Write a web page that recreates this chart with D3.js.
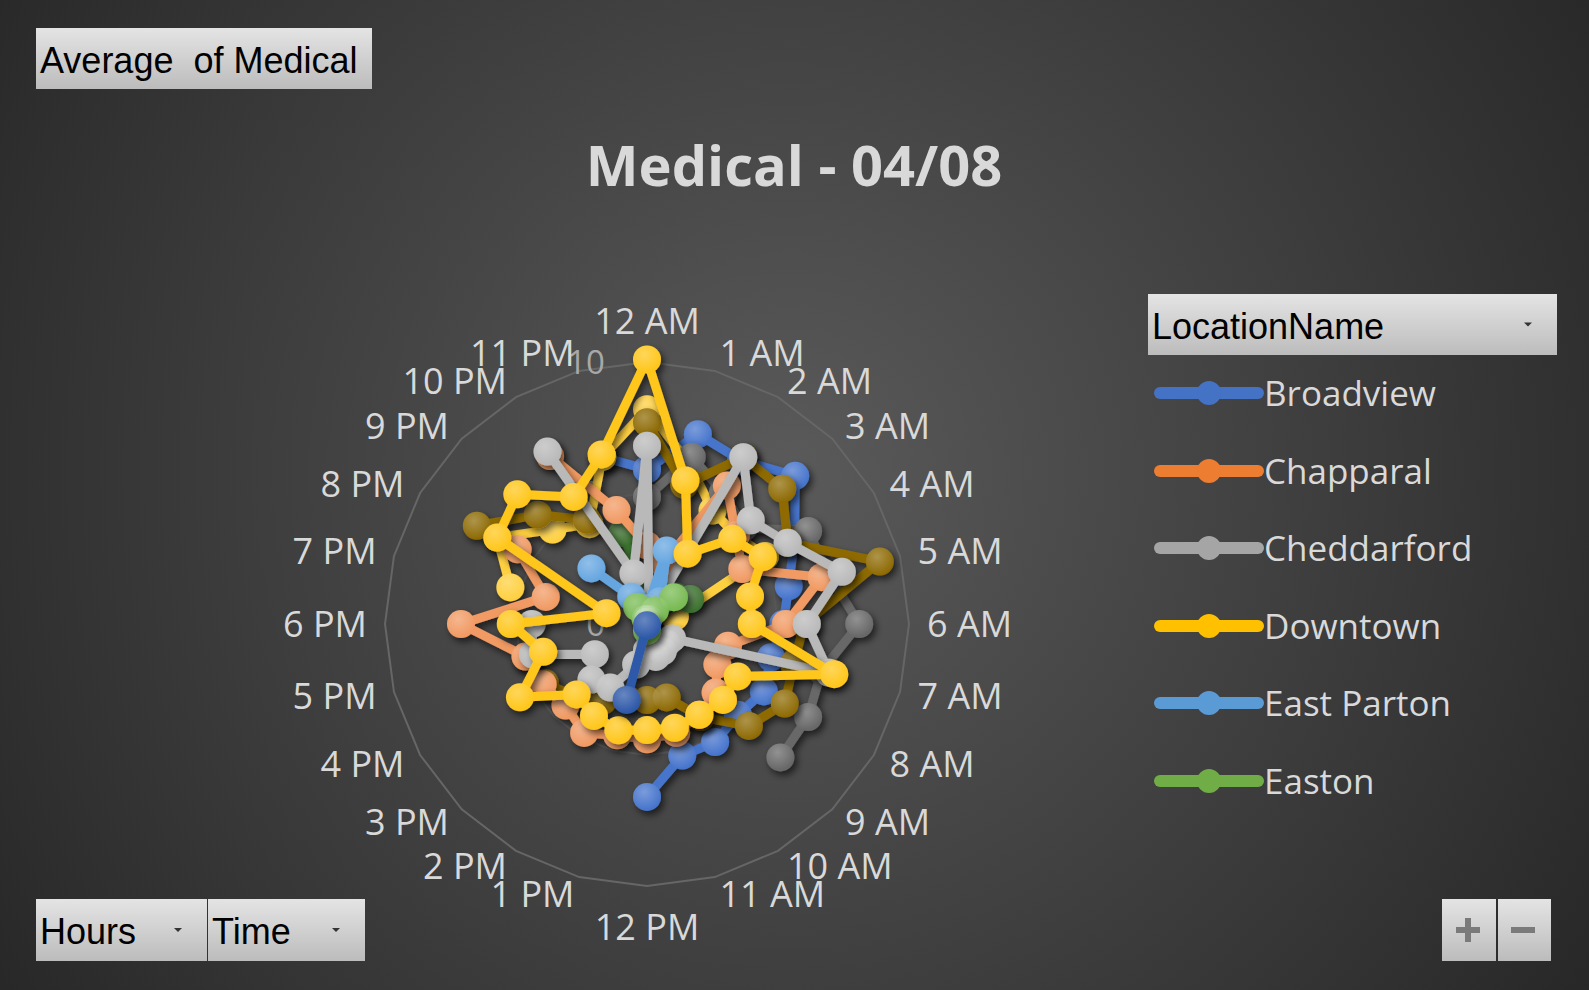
<!DOCTYPE html>
<html><head><meta charset="utf-8">
<script src="https://cdn.jsdelivr.net/npm/d3@7"></script>
<style>html,body{margin:0;padding:0;background:#333;overflow:hidden}text{white-space:pre}</style>
</head><body><svg id="c" width="1589" height="990"></svg>
<script>
const N = null;
const hours = ["12 AM","1 AM","2 AM","3 AM","4 AM","5 AM","6 AM","7 AM","8 AM","9 AM","10 AM","11 AM",
               "12 PM","1 PM","2 PM","3 PM","4 PM","5 PM","6 PM","7 PM","8 PM","9 PM","10 PM","11 PM"];
const valueTicks = [0, 5, 10];
const legendNames = ["Broadview","Chapparal","Cheddarford","Downtown","East Parton","Easton"];
const legendColors = ["#4472C4","#ED7D31","#A5A5A5","#FFC000","#5B9BD5","#70AD47"];
// values per hour, 12 AM .. 11 PM (null = no data)
const broadview   = [5.9,7.5,7.2,8.0,6.5,5.6,5.2,4.9,5.15,4.9,5.2,5.2,6.6,N,N,N,N,N,N,N,N,N,N,6.6];
const chapparal   = [3.0,2.4,6.1,4.8,4.2,6.9,5.3,3.2,3.1,3.7,4.0,4.3,4.4,4.4,4.8,4.4,4.6,4.8,7.1,4.0,5.7,N,7.4,4.5];
const cheddarford = [6.8,0.3,7.35,5.6,6.2,7.7,6.1,7.2,1.1,1.05,1.2,1.3,1.0,1.6,2.8,3.0,2.3,4.5,4.4,N,N,N,7.6,2.0];
const downtown    = [10.1,5.67,3.1,4.6,5.1,4.07,4.0,7.4,4.0,4.1,4.0,4.1,4.05,4.2,4.05,3.8,5.6,4.1,5.2,1.6,6.6,7.0,5.6,6.7];
const eastParton  = [0.6,2.9,1.0,N,N,N,N,N,N,N,N,N,N,N,N,N,N,N,N,N,N,3.0,1.2,0.4];
const easton      = [0.1,0.2,0.6,1.45,N,N,N,N,N,N,N,N,0.25,N,N,N,N,N,N,N,N,N,0.75,0.2];
const series7     = [N,N,N,N,N,N,N,N,N,N,N,N,0.05,3.0,N,N,N,N,N,N,N,N,N,N];
const series9     = [4.85,6.6,5.8,5.2,7.1,7.2,8.1,6.9,7.1,7.2,N,N,N,N,N,N,N,N,N,N,N,N,N,N];
const series10    = [7.7,5.5,7.35,7.3,6.2,9.2,6.0,5.8,6.07,5.5,4.1,2.9,2.9,2.95,3.4,3.9,4.5,4.8,N,N,7.5,5.9,4.6,N];
const series12    = [1.0,0.6,1.0,1.5,1.9,N,N,N,N,N,N,N,N,N,N,N,N,N,N,N,N,N,N,3.6];
const series16    = [8.2,6.3,5.0,4.8,5.2,1.1,N,N,N,N,N,N,N,N,N,N,N,N,N,5.4,6.6,5.1,4.4,6.6];

const W = 1589, H = 990, cx = 647, cy = 624, R = 262;
const svg = d3.select("#c");
const defs = svg.append("defs");

const bg = defs.append("radialGradient").attr("id","bg").attr("gradientUnits","userSpaceOnUse")
  .attr("cx",790).attr("cy",470).attr("r",980);
bg.append("stop").attr("offset",0).attr("stop-color","#5a5a5a");
bg.append("stop").attr("offset",1).attr("stop-color","#262626");

const bt = defs.append("linearGradient").attr("id","btn").attr("x1",0).attr("y1",0).attr("x2",0).attr("y2",1);
bt.append("stop").attr("offset",0).attr("stop-color","#e4e4e4");
bt.append("stop").attr("offset",1).attr("stop-color","#bcbcbc");

const f = defs.append("filter").attr("id","sh").attr("x","-30%").attr("y","-30%").attr("width","160%").attr("height","160%");
f.append("feDropShadow").attr("dx",3).attr("dy",4).attr("stdDeviation",3.5)
  .attr("flood-color","#000").attr("flood-opacity",0.6);

const hl = defs.append("radialGradient").attr("id","hl").attr("cx","40%").attr("cy","32%").attr("r","65%");
hl.append("stop").attr("offset",0).attr("stop-color","#fff").attr("stop-opacity",0.28);
hl.append("stop").attr("offset",1).attr("stop-color","#fff").attr("stop-opacity",0);

svg.append("rect").attr("width",W).attr("height",H).attr("fill","url(#bg)");

// buttons
function button(x, y, w, h, label, arrowX, tx) {
  svg.append("rect").attr("x",x).attr("y",y).attr("width",w).attr("height",h).attr("fill","url(#btn)");
  if (label) svg.append("text").attr("x",tx !== undefined ? tx : x + 4).attr("y",y + 45)
    .attr("font-family","Liberation Sans, Arial, sans-serif").attr("font-size",36).attr("fill","#000").text(label);
  if (arrowX) svg.append("path")
    .attr("d",`M${arrowX-4},${y+h/2-2}L${arrowX+4},${y+h/2-2}L${arrowX},${y+h/2+2}Z`).attr("fill","#333");
}
button(36,28,336,61,"Average  of Medical");
button(1148,294,409,61,"LocationName",1528);
button(36,899,171,62,"Hours",178,40);
button(208,899,157,62,"Time",336,212);
button(1442,899,54,62,null);
button(1498,899,53,62,null);
svg.append("path").attr("d","M1456,930H1480M1468,918V942").attr("stroke","#7a7a7a").attr("stroke-width",6);
svg.append("path").attr("d","M1511,930H1535").attr("stroke","#7a7a7a").attr("stroke-width",6);

// title
svg.append("text").attr("x",794).attr("y",186).attr("text-anchor","middle")
  .attr("font-family","Open Sans, sans-serif").attr("font-weight","bold").attr("font-size",56)
  .attr("fill","#d9d9d9").text("Medical - 04/08");

// scales
const angle = d3.scaleLinear().domain([0, hours.length]).range([0, 2*Math.PI]);
const rad = d3.scaleLinear().domain([0, 10]).range([0, R]);

const plot = svg.append("g").attr("transform",`translate(${cx},${cy})`);
const gridLine = d3.lineRadial().angle((d,i)=>angle(i)).radius(d=>rad(d)).curve(d3.curveLinearClosed);
[5,10].forEach(v => plot.append("path").attr("d", gridLine(hours.map(()=>v)))
  .attr("fill","none").attr("stroke", v===10 ? "#666" : "#575757").attr("stroke-width",2));

// category labels
hours.forEach((h,i) => {
  const t = angle(i), s = Math.sin(t), c = Math.cos(t), LR = 280;
  let x = cx + LR*s, y = cy - LR*c;
  let anchor = Math.abs(s) < 0.01 ? "middle" : (s > 0 ? "start" : "end");
  if (Math.abs(s) < 0.01) y += c > 0 ? -23 : 23;
  svg.append("text").attr("x",x).attr("y",y + 12.9).attr("text-anchor",anchor)
    .attr("font-family","Open Sans, sans-serif").attr("font-size",36).attr("fill","#d9d9d9").text(h);
});

// value labels
valueTicks.forEach(v => plot.append("text").attr("x",-42).attr("y",-rad(v) + 11.8)
  .attr("text-anchor","end").attr("font-family","Open Sans, sans-serif").attr("font-size",33)
  .attr("fill","#a8a8a8").text(v));

const series = [
  {values: broadview,   color: "#4775CC"},
  {values: series16,    color: "#FFD040"},
  {values: series9,     color: "#676767"},
  {values: series10,    color: "#8E6B05"},
  {values: series12,    color: "#3E7330"},
  {values: chapparal,   color: "#F19A63"},
  {values: cheddarford, color: "#B9B9B9"},
  {values: eastParton,  color: "#66A6E0"},
  {values: easton,      color: "#78BA52"},
  {values: downtown,    color: "#FFC61A"},
  {values: series7,     color: "#2D58A8"}
];
const line = d3.lineRadial().angle(d=>angle(d.i)).radius(d=>rad(d.v)).defined(d=>d.v!=null);
series.forEach(s => {
  const pts = s.values.map((v,i)=>({i, v}));
  pts.push({i: pts.length, v: s.values[0]});
  const g = plot.append("g").attr("filter","url(#sh)");
  g.append("path").attr("d", line(pts)).attr("fill","none").attr("stroke", s.color)
    .attr("stroke-width",9).attr("stroke-linejoin","round").attr("stroke-linecap","round");
  const mk = pts.filter(d => d.v != null && d.i < hours.length);
  const px = d => rad(d.v)*Math.sin(angle(d.i)), py = d => -rad(d.v)*Math.cos(angle(d.i));
  g.selectAll("circle.m").data(mk).join("circle").attr("class","m")
    .attr("cx",px).attr("cy",py).attr("r",14).attr("fill",s.color);
  g.selectAll("circle.h").data(mk).join("circle").attr("class","h")
    .attr("cx",px).attr("cy",py).attr("r",14).attr("fill","url(#hl)");
});

// legend
const legY = [393,471,548,626,703,781];
legendNames.forEach((n,i) => {
  const g = svg.append("g");
  g.append("line").attr("x1",1160).attr("x2",1258).attr("y1",legY[i]).attr("y2",legY[i])
    .attr("stroke",legendColors[i]).attr("stroke-width",12).attr("stroke-linecap","round");
  g.append("circle").attr("cx",1209).attr("cy",legY[i]).attr("r",12).attr("fill",legendColors[i]);
  g.append("text").attr("x",1264).attr("y",legY[i] + 12.5).attr("font-family","Open Sans, sans-serif")
    .attr("font-size",35).attr("fill","#d9d9d9").text(n);
});
</script></body></html>
